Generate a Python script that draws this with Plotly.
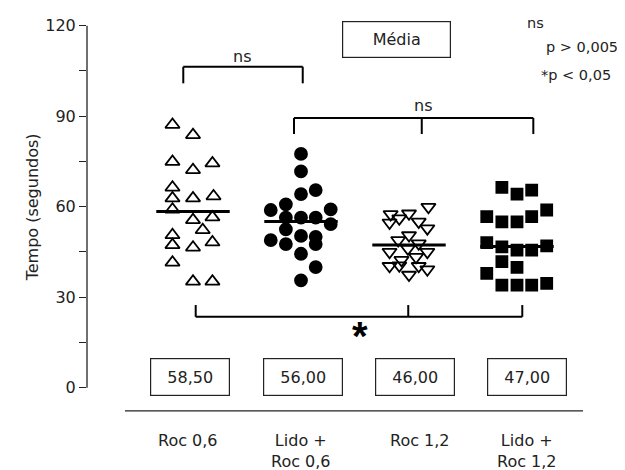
import plotly.graph_objects as go

# ---- data ----
groups = ["Roc 0,6", "Lido +<br>Roc 0,6", "Roc 1,2", "Lido +<br>Roc 1,2"]
box_labels = ["58,50", "56,00", "46,00", "47,00"]
mean_lines = [58.4, 55.1, 47.3, 46.8]

roc06 = [87.2, 83.8, 74.9, 72.2, 74.4, 66.4, 62.8, 62.8, 63.5, 59.1,
         55.6, 56.5, 52.3, 50.6, 47.3, 46.5, 48.2, 41.5, 35.2, 35.2]
roc06_jit = [-0.19, 0, -0.19, 0, 0.18, -0.19, -0.19, 0, 0.19, -0.19,
             0, 0.18, 0.09, -0.19, -0.19, 0, 0.18, -0.19, 0, 0.18]

lido06 = [77.5, 71.7, 64.2, 65.5, 58.9, 60.8, 59.1, 56.4, 56.4, 56.4,
          54.2, 52.5, 48.9, 47.6, 50.3, 50.0, 47.6, 44.4, 40.0, 35.6]
lido06_jit = [0, 0, 0, 0.136, -0.28, -0.14, 0.275, -0.14, 0, 0.136,
              0.275, -0.14, -0.28, -0.14, 0, 0.136, 0.136, 0, 0.136, 0]

roc12 = [59.9, 57.5, 57.7, 54.7, 56.1, 55.0, 52.8, 50.5, 48.9, 47.8,
         45.0, 46.1, 45.0, 42.3, 43.3, 40.3, 40.5, 40.3, 39.2, 37.4]
roc12_jit = [0.18, -0.17, 0, -0.18, -0.09, 0.09, 0.17, 0, -0.10, 0.09,
             -0.18, -0.01, 0.17, -0.07, 0.065, -0.18, -0.09, 0.09, 0.17, 0]

lido12 = [66.4, 64.2, 65.5, 58.9, 56.7, 56.7, 55.0, 55.0, 48.1, 46.7,
          45.6, 45.6, 47.0, 41.8, 39.9, 37.9, 34.0, 34.0, 34.0, 34.6]
lido12_jit = [-0.14, 0, 0.136, 0.275, 0.136, -0.28, -0.14, 0, -0.28, -0.14,
              0, 0.136, 0.275, -0.14, 0, -0.28, -0.14, 0, 0.136, 0.275]

y_ticks = [0, 30, 60, 90, 120]
y_minor = [15, 45, 75, 105]

series = [
    (roc06, roc06_jit, "triangle-up-open", 12.5),
    (lido06, lido06_jit, "circle", 12),
    (roc12, roc12_jit, "triangle-down-open", 12.5),
    (lido12, lido12_jit, "square", 11),
]

FONT = "DejaVu Sans, Verdana, sans-serif"
TXT = "#222222"

fig = go.Figure()

for i, (vals, jit, sym, size) in enumerate(series):
    c = i + 1
    fig.add_trace(go.Scatter(
        x=[c + j for j in jit], y=vals, mode="markers",
        marker=dict(symbol=sym, size=size, color="black",
                    line=dict(color="black", width=1.8)),
        showlegend=False, hoverinfo="y", cliponaxis=False))
    fig.add_trace(go.Scatter(
        x=[c - 0.34, c + 0.34], y=[mean_lines[i]] * 2, mode="lines",
        line=dict(color="black", width=3), showlegend=False,
        hoverinfo="skip"))

shapes = []
# y axis line (0 to 120)
shapes.append(dict(type="line", xref="paper", yref="y", x0=0, x1=0,
                   y0=y_ticks[0], y1=y_ticks[-1],
                   line=dict(color="#222", width=1.3)))

def bracket(xs, y_bar, y_end, mid=None):
    out = [dict(type="line", xref="x", yref="y", x0=xs[0], x1=xs[1],
                y0=y_bar, y1=y_bar, line=dict(color="black", width=2))]
    for xx in [xs[0], xs[1]] + ([mid] if mid is not None else []):
        out.append(dict(type="line", xref="x", yref="y", x0=xx, x1=xx,
                        y0=y_bar, y1=y_end, line=dict(color="black", width=2)))
    return out

shapes += bracket([0.91, 2.016], 106.4, 100.9)
shapes += bracket([1.935, 4.151], 89.4, 84.1, mid=3.118)
shapes += bracket([1.025, 4.049], 23.5, 27.4, mid=2.993)
# separator line below the value boxes
shapes.append(dict(type="line", xref="x", yref="y", x0=0.37, x1=4.611,
                   y0=-7.7, y1=-7.7, line=dict(color="#222", width=1.3)))

ann = []
ann.append(dict(x=-0.129, xref="paper", y=59.9, yref="y",
                text="Tempo (segundos)", textangle=-90, showarrow=False,
                font=dict(size=16, color=TXT, family=FONT)))
box_x = [0.972, 2.019, 3.056, 4.093]
lab_x = [0.954, 2.0, 3.102, 4.093]
for bx, lx, bl, g in zip(box_x, lab_x, box_labels, groups):
    ann.append(dict(x=bx, y=3.55, xref="x", yref="y", text=bl,
                    showarrow=False, width=74, height=32, borderpad=2,
                    bordercolor="#222", borderwidth=1.2,
                    font=dict(size=16, color=TXT, family=FONT)))
    ann.append(dict(x=lx, y=-13.6, xref="x", yref="y", text=g,
                    yanchor="top", showarrow=False,
                    font=dict(size=16, color=TXT, family=FONT)))
ann.append(dict(x=2.88, y=115.3, xref="x", yref="y", text="Média",
                showarrow=False, width=103, height=31, borderpad=2,
                bordercolor="#222", borderwidth=1.2,
                font=dict(size=16, color=TXT, family=FONT)))
ann.append(dict(x=1.45, y=109.7, xref="x", yref="y", text="ns",
                showarrow=False, font=dict(size=16, color=TXT, family=FONT)))
ann.append(dict(x=3.127, y=93.4, xref="x", yref="y", text="ns",
                showarrow=False, font=dict(size=16, color=TXT, family=FONT)))
ann.append(dict(x=2.546, y=17.2, xref="x", yref="y", text="<b>*</b>",
                showarrow=False,
                font=dict(size=40, color="black",
                          family="Liberation Sans, Arial, sans-serif")))
ann.append(dict(x=4.167, y=120.9, xref="x", yref="y", text="ns",
                showarrow=False, font=dict(size=14.5, color=TXT, family=FONT)))
ann.append(dict(x=4.25, y=113.0, xref="x", yref="y", text="p &gt; 0,005",
                xanchor="left", showarrow=False,
                font=dict(size=14.5, color=TXT, family=FONT)))
ann.append(dict(x=4.2, y=103.7, xref="x", yref="y", text="*p &lt; 0,05",
                xanchor="left", showarrow=False,
                font=dict(size=14.5, color=TXT, family=FONT)))

# the page body adds an 8 px offset, so the figure is 8 px smaller
fig.update_layout(
    width=617, height=462,
    margin=dict(l=79, r=25, t=0, b=1),
    paper_bgcolor="white", plot_bgcolor="white",
    shapes=shapes, annotations=ann,
    xaxis=dict(range=[0.0185, 4.7685], visible=False),
    yaxis=dict(range=[-26.95, 125.87], showgrid=False, zeroline=False,
               showline=False, tickmode="array", tickvals=y_ticks,
               ticks="outside", ticklen=7, tickwidth=1.3, tickcolor="#222",
               tickfont=dict(size=16, color=TXT, family=FONT),
               minor=dict(tickmode="array", tickvals=y_minor, ticks="outside",
                          ticklen=7, tickwidth=1.3, tickcolor="#222")),
)

fig.write_html("out.html")
